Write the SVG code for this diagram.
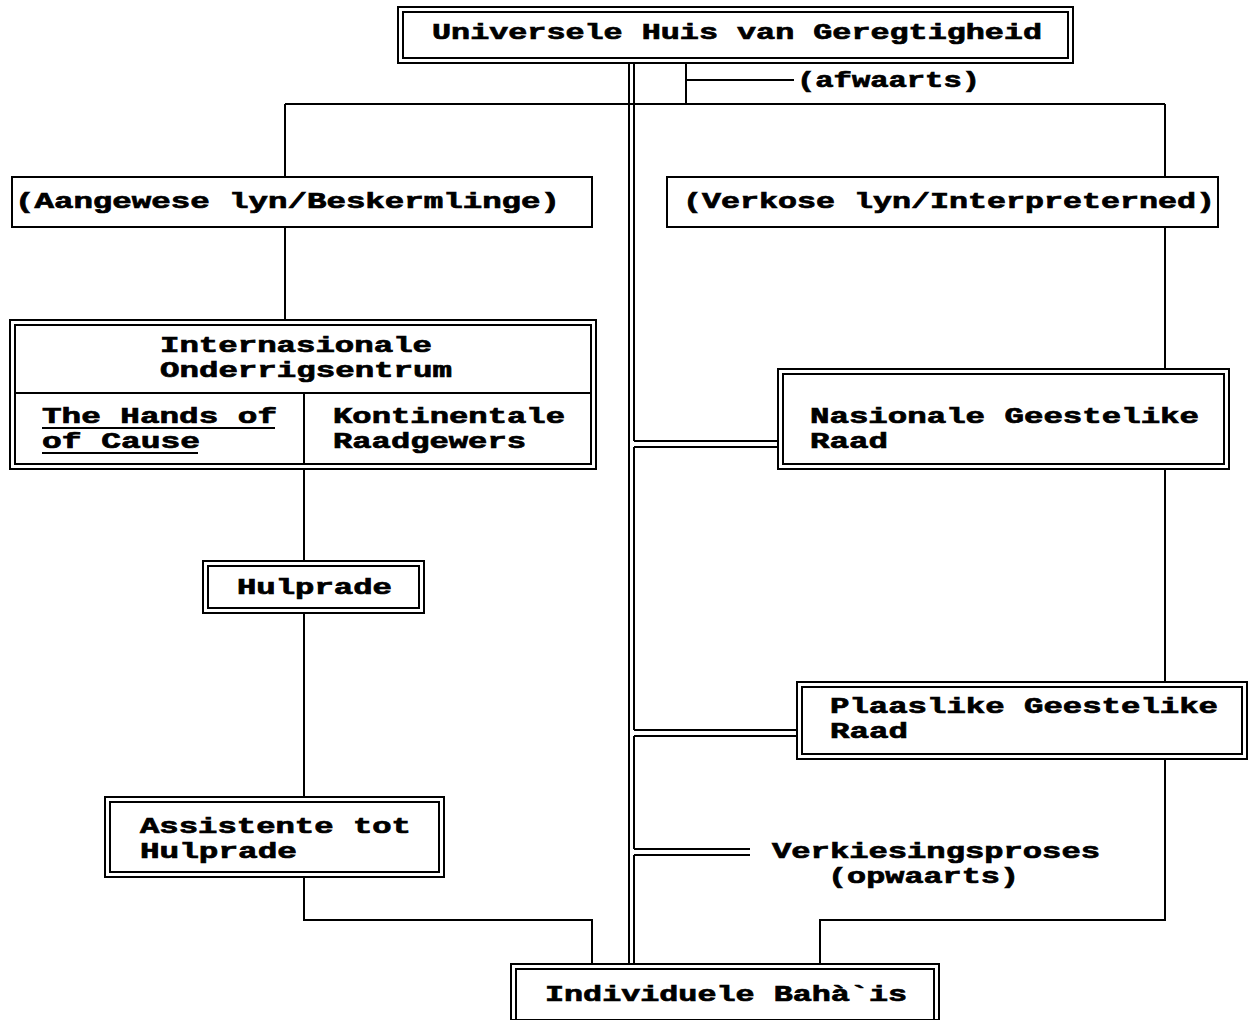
<svg xmlns="http://www.w3.org/2000/svg" width="1248" height="1020" viewBox="0 0 1248 1020">
<style>
.t{font-family:"Liberation Mono","DejaVu Sans Mono",monospace;font-weight:bold;font-size:22px;fill:#000;stroke:#000;stroke-width:0.7}
.b{fill:#fff;stroke:#000;stroke-width:2}
.i{fill:none;stroke:#000;stroke-width:2}
.c{fill:none;stroke:#000;stroke-width:2}
</style>
<rect width="1248" height="1020" fill="#fff"/>
<g id="connectors">
<path class="c" d="M629 63V964M634 63V441M634 447V730M634 736V849M634 855V964"/>
<path class="c" d="M634 441H778M634 447H778M634 730H797M634 736H797M634 849H750M634 855H750"/>
<path class="c" d="M686 63V104M686 80H794M285 104H1165M285 104V177M285 227V320M1165 104V177M1165 227V369M1165 469V682M1165 759V920H820V964"/>
<path class="c" d="M304 469V561M304 613V797M304 877V920H592V964"/>
</g>
<g id="n-uhj">
<rect class="b" x="398" y="7" width="675" height="56"/>
<rect class="i" x="403" y="12" width="665" height="46"/>
<text class="t" x="432" y="39" textLength="610" lengthAdjust="spacingAndGlyphs">Universele Huis van Geregtigheid</text>
</g>
<g id="lbl-afwaarts"><text class="t" x="797" y="87" textLength="183" lengthAdjust="spacingAndGlyphs">(afwaarts)</text></g>
<g id="n-aangewese">
<rect class="b" x="12" y="177" width="580" height="50"/>
<text class="t" x="15" y="208" textLength="545" lengthAdjust="spacingAndGlyphs">(Aangewese lyn/Beskermlinge)</text>
</g>
<g id="n-verkose">
<rect class="b" x="667" y="177" width="551" height="50"/>
<text class="t" x="683" y="208" textLength="532" lengthAdjust="spacingAndGlyphs">(Verkose lyn/Interpreterned)</text>
</g>
<g id="n-internasionale">
<rect class="b" x="10" y="320" width="586" height="149"/>
<rect class="i" x="15" y="325" width="576" height="139"/>
<path class="c" d="M15 393H591M304 393V464"/>
<text class="t" x="160" y="352" textLength="272" lengthAdjust="spacingAndGlyphs">Internasionale</text>
<text class="t" x="160" y="377" textLength="292" lengthAdjust="spacingAndGlyphs">Onderrigsentrum</text>
<text class="t" x="42" y="423" textLength="235" lengthAdjust="spacingAndGlyphs">The Hands of</text>
<text class="t" x="42" y="448" textLength="158" lengthAdjust="spacingAndGlyphs">of Cause</text>
<path class="c" d="M42 428H275M42 453H198"/>
<text class="t" x="333" y="423" textLength="232" lengthAdjust="spacingAndGlyphs">Kontinentale</text>
<text class="t" x="333" y="448" textLength="193" lengthAdjust="spacingAndGlyphs">Raadgewers</text>
</g>
<g id="n-nasionale">
<rect class="b" x="778" y="369" width="451" height="100"/>
<rect class="i" x="783" y="374" width="441" height="90"/>
<text class="t" x="810" y="423" textLength="389" lengthAdjust="spacingAndGlyphs">Nasionale Geestelike</text>
<text class="t" x="810" y="448" textLength="78" lengthAdjust="spacingAndGlyphs">Raad</text>
</g>
<g id="n-hulprade">
<rect class="b" x="203" y="561" width="221" height="52"/>
<rect class="i" x="208" y="566" width="211" height="42"/>
<text class="t" x="237" y="594" textLength="155" lengthAdjust="spacingAndGlyphs">Hulprade</text>
</g>
<g id="n-plaaslike">
<rect class="b" x="797" y="682" width="450" height="77"/>
<rect class="i" x="802" y="687" width="440" height="67"/>
<text class="t" x="830" y="713" textLength="388" lengthAdjust="spacingAndGlyphs">Plaaslike Geestelike</text>
<text class="t" x="830" y="738" textLength="78" lengthAdjust="spacingAndGlyphs">Raad</text>
</g>
<g id="n-assistente">
<rect class="b" x="105" y="797" width="339" height="80"/>
<rect class="i" x="110" y="802" width="329" height="70"/>
<text class="t" x="140" y="833" textLength="271" lengthAdjust="spacingAndGlyphs">Assistente tot</text>
<text class="t" x="140" y="858" textLength="157" lengthAdjust="spacingAndGlyphs">Hulprade</text>
</g>
<g id="lbl-verkiesing">
<text class="t" x="772" y="858" textLength="328" lengthAdjust="spacingAndGlyphs">Verkiesingsproses</text>
<text class="t" x="828" y="883" textLength="191" lengthAdjust="spacingAndGlyphs">(opwaarts)</text>
</g>
<g id="n-individuele">
<rect class="b" x="511" y="964" width="428" height="56"/>
<rect class="i" x="516" y="969" width="418" height="52"/>
<text class="t" x="545" y="1001" textLength="362" lengthAdjust="spacingAndGlyphs">Individuele Bahà`is</text>
</g>
</svg>
